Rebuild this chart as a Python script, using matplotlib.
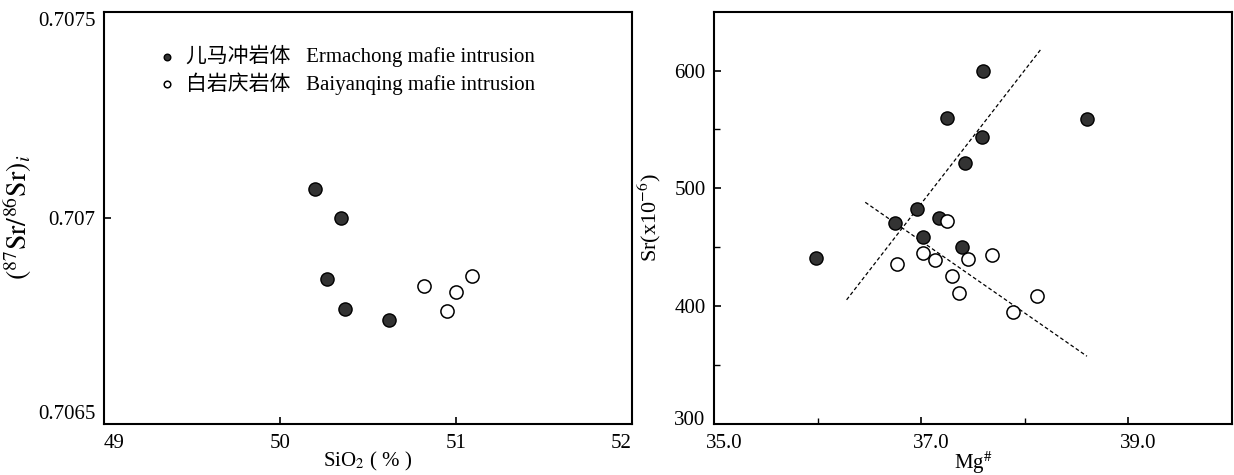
import matplotlib
matplotlib.use("Agg")
import matplotlib.pyplot as plt
import matplotlib.transforms as mtransforms
from matplotlib.ticker import FixedLocator

plt.rcParams['font.family'] = ['Liberation Serif', 'Noto Sans CJK SC', 'DejaVu Sans']
plt.rcParams['mathtext.fontset'] = 'stix'

# ---- Left panel data: SiO2 vs (87Sr/86Sr)i ----
erm_sio2 = [50.20, 50.35, 50.27, 50.37, 50.62]
erm_srsr = [0.70707, 0.70700, 0.706851, 0.706779, 0.706751]
bai_sio2 = [50.82, 51.00, 51.09, 50.95]
bai_srsr = [0.706834, 0.706819, 0.706859, 0.706774]

# ---- Right panel data: Mg# vs Sr ----
erm_mg = [35.98, 36.75, 36.96, 37.02, 37.17, 37.25, 37.39, 37.42, 37.59, 37.60, 38.60]
erm_sr = [440.6, 470.7, 482.3, 458.9, 474.9, 559.7, 450.1, 521.4, 543.7, 600.0, 558.6]
bai_mg = [36.77, 37.02, 37.13, 37.25, 37.30, 37.36, 37.45, 37.68, 37.89, 38.12]
bai_sr = [436.1, 444.8, 438.9, 472.4, 425.9, 411.0, 439.7, 443.7, 394.9, 408.7]

# trend lines (endpoints)
trend1_mg = [36.28, 38.15]
trend1_sr = [405.4, 617.5]
trend2_mg = [36.46, 38.60]
trend2_sr = [488.2, 357.5]

left_xticks = [49, 50, 51, 52]
left_yticks = [0.7065, 0.707, 0.7075]
left_yticklabels = ['0.7065', '0.707', '0.7075']
right_xticks = [35, 37, 39]
right_xticklabels = ['35.0', '37.0', '39.0']
right_yticks = [300, 400, 500, 600]

labels = ['儿马冲岩体   Ermachong mafie intrusion', '白岩庆岩体   Baiyanqing mafie intrusion']

fig = plt.figure(figsize=(12.34, 4.75), dpi=100)
ax1 = fig.add_axes([0.0840, 0.1074, 0.4282, 0.868])
ax2 = fig.add_axes([0.5786, 0.1074, 0.4198, 0.868])

fill_c = '#333333'
ms = 90

ax1.scatter(erm_sio2, erm_srsr, s=ms, facecolor=fill_c, edgecolor='black', linewidth=1.0, label=labels[0], zorder=3)
ax1.scatter(bai_sio2, bai_srsr, s=ms, facecolor='white', edgecolor='black', linewidth=1.1, label=labels[1], zorder=3)
ax1.set_xlim(49, 52)
ax1.set_ylim(0.7065, 0.7075)
ax1.xaxis.set_major_locator(FixedLocator(left_xticks))
ax1.yaxis.set_major_locator(FixedLocator(left_yticks))
ax1.set_yticklabels(left_yticklabels)
ax1.set_xticklabels([str(v) for v in left_xticks])
ax1.set_xlabel('SiO$_2$ ( % )', fontsize=15)
ax1.set_ylabel(r'$(^{87}\mathrm{Sr}/^{86}\mathrm{Sr})_i$', fontsize=20)
ax1.xaxis.set_label_coords(0.5, -0.062)
ax1.yaxis.set_label_coords(-0.132, 0.5)

leg = ax1.legend(loc='upper left', bbox_to_anchor=(0.108, 0.92), frameon=False,
                 fontsize=15, markerscale=0.5, handlelength=0.6, handletextpad=0.6,
                 labelspacing=0.25, borderpad=0, borderaxespad=0)

ax2.scatter(erm_mg, erm_sr, s=ms, facecolor=fill_c, edgecolor='black', linewidth=1.0, zorder=3)
ax2.scatter(bai_mg, bai_sr, s=ms, facecolor='white', edgecolor='black', linewidth=1.1, zorder=3)
ax2.plot(trend1_mg, trend1_sr, color='black', linestyle=(0, (3, 2)), linewidth=0.9, zorder=2)
ax2.plot(trend2_mg, trend2_sr, color='black', linestyle=(0, (3, 2)), linewidth=0.9, zorder=2)
ax2.set_xlim(35, 40)
ax2.set_ylim(300, 650)
ax2.xaxis.set_major_locator(FixedLocator(right_xticks))
ax2.set_xticklabels(right_xticklabels)
ax2.xaxis.set_minor_locator(FixedLocator([36, 38]))
ax2.yaxis.set_major_locator(FixedLocator(right_yticks))
ax2.yaxis.set_minor_locator(FixedLocator([350, 450, 550]))
ax2.set_xlabel(r'Mg$^{\#}$', fontsize=15)
ax2.set_ylabel(r'Sr(x10$^{-6}$)', fontsize=16)
ax2.xaxis.set_label_coords(0.5, -0.062)
ax2.yaxis.set_label_coords(-0.098, 0.5)

for ax in (ax1, ax2):
    for sp in ax.spines.values():
        sp.set_linewidth(1.5)
    ax.tick_params(which='major', direction='in', length=5, width=1.2, labelsize=15, pad=6)
    ax.tick_params(which='minor', direction='in', length=4, width=1.0)
    ax.tick_params(axis='x', pad=7)

# edge tick labels pushed inside, as in the reference
xt = ax1.get_xticklabels()
xt[0].set_horizontalalignment('left')
xt[-1].set_horizontalalignment('right')
yt = ax1.get_yticklabels()
yt[0].set_verticalalignment('bottom')
yt[-1].set_verticalalignment('top')

shift = mtransforms.ScaledTranslation(0.10, 0, fig.dpi_scale_trans)
for lab in ax2.get_xticklabels():
    lab.set_transform(lab.get_transform() + shift)
lab300 = ax2.get_yticklabels()[0]
lab300.set_transform(lab300.get_transform() + mtransforms.ScaledTranslation(0, 0.06, fig.dpi_scale_trans))

fig.savefig('out.png', dpi=100)
